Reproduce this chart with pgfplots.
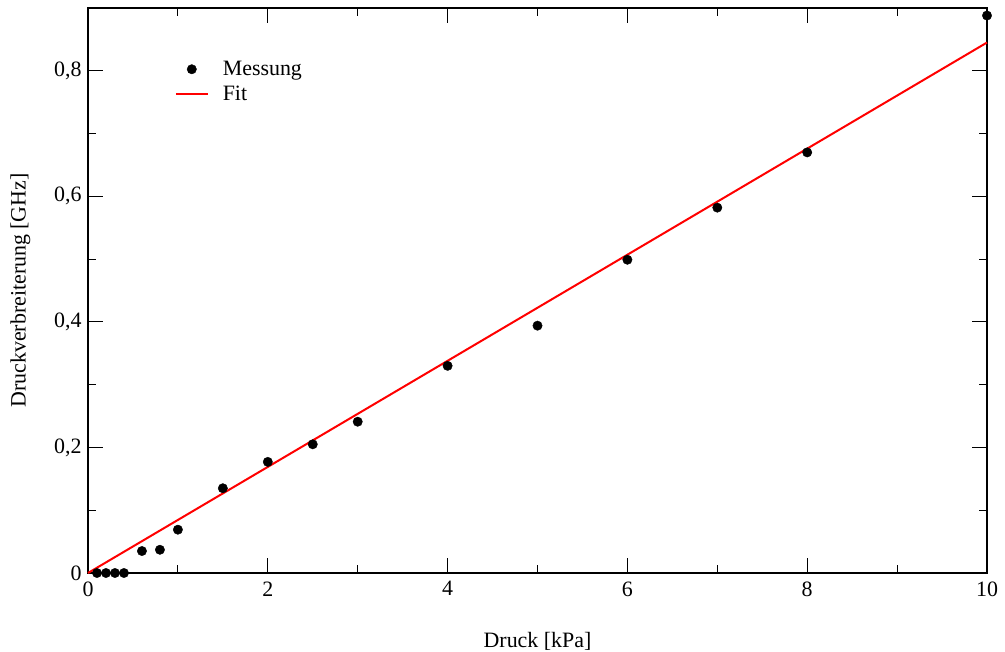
\documentclass[border=0pt]{standalone}
\usepackage{fontspec}
\setmainfont{Liberation Serif}
\usepackage{pgfplots}
\pgfplotsset{compat=1.18}
\begin{document}
\begin{tikzpicture}[font=\fontsize{22}{26}\selectfont]
\begin{axis}[
  at={(0,0)}, anchor=south west,
  scale only axis, width=899bp, height=565bp,
  xmin=0, xmax=10, ymin=0, ymax=0.9,
  xtick={0,2,4,6,8,10}, ytick={0,0.2,0.4,0.6,0.8},
  minor x tick num=1, minor y tick num=1,
  tick align=inside,
  major tick length=15bp, minor tick length=8bp,
  axis line style={line width=1.6bp},
  every tick/.style={line width=1.1bp, black},
  /pgf/number format/use comma,
  /pgf/number format/assume math mode=true,
  ticklabel style={font=\fontsize{22}{26}\selectfont},
  xticklabel style={yshift=-5bp},
  yticklabel style={xshift=-3bp},
  xlabel={Druck [kPa]}, ylabel={Druckverbreiterung [GHz]},
  label style={font=\fontsize{22}{26}\selectfont},
  xlabel style={yshift=-29bp},
  ylabel style={yshift=17bp},
  legend style={draw=none, fill=none, at={(0.093,0.913)}, anchor=north west,
    font=\fontsize{22}{26}\selectfont, row sep=5bp, column sep=12bp},
  legend cell align=left,
  legend image code/.code={\draw[mark repeat=2,mark phase=2,#1] plot coordinates {(0bp,0bp) (16bp,0bp) (32bp,0bp)};},
  clip=false,
]
\addplot[only marks, mark=*, mark size=4.7bp, black] coordinates {
 (0.1,0) (0.2,0) (0.3,0) (0.4,0) (0.6,0.035) (0.8,0.037) (1.0,0.069)
 (1.5,0.135) (2.0,0.177) (2.5,0.205) (3.0,0.241) (4.0,0.330) (5.0,0.394)
 (6.0,0.499) (7.0,0.582) (8.0,0.670) (10.0,0.888)
};
\addlegendentry{Messung}
\addplot[red, line width=2bp] coordinates {(0,0) (10,0.845)};
\addlegendentry{Fit}
\end{axis}
\pgfresetboundingbox
\path[use as bounding box] (-88bp,-79bp) rectangle (917bp,573bp);
\end{tikzpicture}
\end{document}
